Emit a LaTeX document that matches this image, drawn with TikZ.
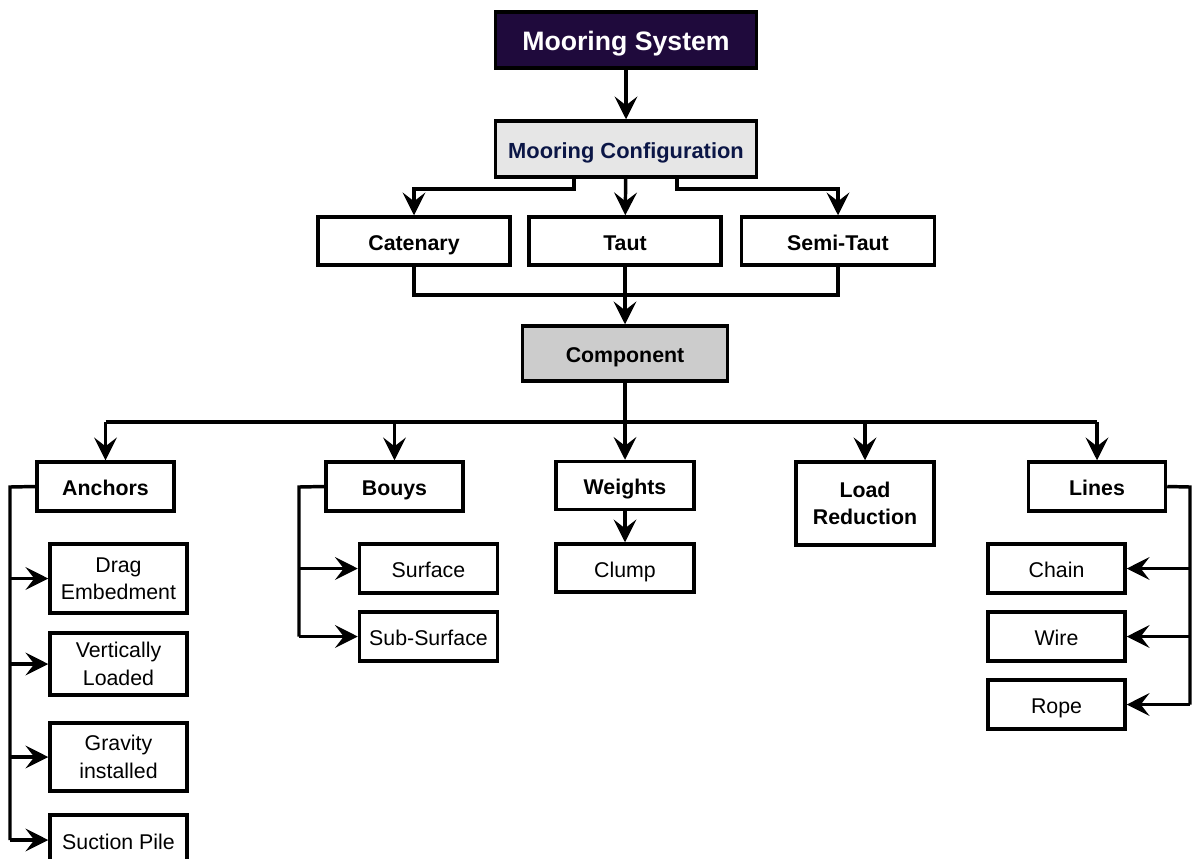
\documentclass[tikz,border=0pt]{standalone}
\usepackage{fontspec}
\setmainfont{Liberation Sans}
\usetikzlibrary{arrows.meta,calc}
\definecolor{topfill}{HTML}{1F0A3C}
\definecolor{cfgfill}{HTML}{E6E6E6}
\definecolor{cfgtext}{HTML}{0B1646}
\definecolor{compfill}{HTML}{CCCCCC}
\tikzset{
  box/.style={draw=black, line width=2.6pt, fill=white, inner sep=0pt, align=center,
    font=\fontsize{16}{20.5}\selectfont},
  bbox/.style={box, font=\fontsize{16}{20.5}\selectfont\bfseries},
  one/.style={text height=14.2pt, text depth=0.4pt},
  sz/.style 2 args={minimum width=#1*0.75pt, minimum height=#2*0.75pt},
  conn/.style={line width=2.6pt, line join=miter},
  arr/.style={conn, -{Stealth[length=17pt, width=17pt, inset=6.5pt]}},
}
\begin{document}
\begin{tikzpicture}[x=0.75pt, y=-0.75pt]
\useasboundingbox (0,0) rectangle (1192,858);
\clip (0,0) rectangle (1192,858);
\fill[white] (0,0) rectangle (1192,858);
% level nodes
\node[bbox, sz={261}{56}, fill=topfill, text=white, font=\fontsize{20}{23}\selectfont\bfseries, text height=16.6pt, text depth=0.4pt] (ms) at (626,40) {Mooring System};
\node[bbox, one, sz={261}{56}, fill=cfgfill, text=cfgtext, font=\fontsize{16.4}{20}\selectfont\bfseries] (mc) at (626,149) {Mooring Configuration};
\node[bbox, one, sz={192}{48}] (cat) at (414,241) {Catenary};
\node[bbox, one, sz={192}{48}] (taut) at (625,241) {Taut};
\node[bbox, one, sz={193}{48}] (semi) at (838,241) {Semi-Taut};
\node[bbox, one, sz={205}{55}, fill=compfill] (comp) at (625,353.5) {Component};
\node[bbox, one, sz={137}{49}] (anch) at (105.5,486.5) {Anchors};
\node[bbox, one, sz={137}{49}] (bouy) at (394.5,486.5) {Bouys};
\node[bbox, one, sz={138}{48}] (weig) at (625,485.5) {Weights};
\node[bbox, sz={138}{83}] (load) at (865,503.5) {Load\\Reduction};
\node[bbox, one, sz={137}{49}] (lines) at (1097,486.5) {Lines};
% leaves
\node[box, sz={137}{69}] (drag) at (118.5,578.5) {Drag\\Embedment};
\node[box, sz={137}{62}] (vert) at (118.5,664) {Vertically\\Loaded};
\node[box, sz={137}{68}] (grav) at (118.5,757) {Gravity\\installed};
\node[box, one, sz={137}{50}] (suct) at (118.5,840) {Suction Pile};
\node[box, one, sz={138}{49}] (surf) at (428.5,568.5) {Surface};
\node[box, one, sz={138}{49}] (subs) at (428.5,636.5) {Sub-Surface};
\node[box, one, sz={138}{48}] (clump) at (625,568) {Clump};
\node[box, one, sz={137}{49}] (chain) at (1056.5,568.5) {Chain};
\node[box, one, sz={137}{49}] (wire) at (1056.5,636.5) {Wire};
\node[box, one, sz={137}{49}] (rope) at (1056.5,704.5) {Rope};
% helper coordinates
\coordinate (b1) at (574,189);
\coordinate (b2) at (677,189);
\coordinate (j) at (625,295);
\coordinate (h) at (625,422);
\coordinate (al) at (10,487);
\coordinate (bl) at (299,487);
\coordinate (ll) at (1190,487);
% connectors
\draw[arr] (ms) -- (mc);
\draw[arr] (mc.south -| b1) -- (b1) -| (cat.north);
\draw[arr] (mc) -- (taut);
\draw[arr] (mc.south -| b2) -- (b2) -| (semi.north);
\draw[conn] (cat.south) |- (j) -| (semi.south);
\draw[arr] (taut) -- (comp);
\draw[conn] (comp.south) -- (h);
\draw[conn] (anch.north |- h) -- (lines.north |- h);
\foreach \n in {anch,bouy,weig,load,lines}
  \draw[arr] (\n.north |- h) -- (\n.north);
\draw[conn] (anch.west) -- (al) -- (al |- suct.west);
\foreach \n in {drag,vert,grav,suct}
  \draw[arr] (al |- \n.west) -- (\n.west);
\draw[conn] (bouy.west) -- (bl) -- (bl |- subs.west);
\foreach \n in {surf,subs}
  \draw[arr] (bl |- \n.west) -- (\n.west);
\draw[arr] (weig) -- (clump);
\draw[conn] (lines.east) -- (ll) -- (ll |- rope.east);
\foreach \n in {chain,wire,rope}
  \draw[arr] (ll |- \n.east) -- (\n.east);
\end{tikzpicture}
\end{document}
